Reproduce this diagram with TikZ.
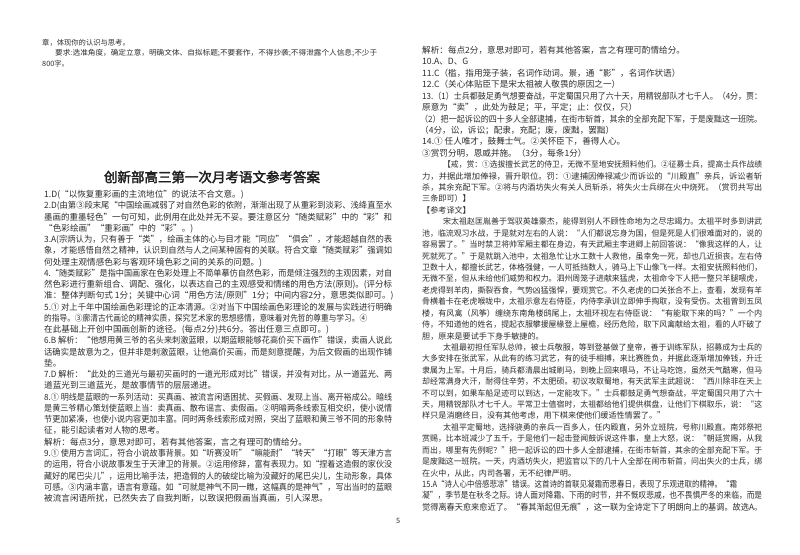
\documentclass[tikz,border=0pt]{standalone}
\usepackage{fontspec}
\usepackage{graphicx}
\setmainfont{Noto Sans CJK SC}
\newfontfamily\titlefont[FakeBold=2.5]{Noto Sans CJK SC}
\newcommand\fa{\fontsize{8.6pt}{10pt}\selectfont}
\newcommand\fb{\fontsize{8.1pt}{10pt}\selectfont}
\newcommand\fc{\fontsize{7.3pt}{9pt}\selectfont}
\tikzset{ln/.style={anchor=base west,inner sep=0pt,font=\fa,text=black!82}}
\newcommand\lf[2]{\node[ln] (l#1) at (44,{197.5+11.26*(#1-1)}) {\resizebox{348pt}{\height}{#2}};}
\newcommand\lw[3]{\node[ln] (l#1) at (44,{197.5+11.26*(#1-1)}) {\resizebox{#2}{\height}{#3}};}
\newcommand\lp[2]{\node[ln] (l#1) at (44,{197.5+11.26*(#1-1)}) {#2};}
\newcommand\rf[4]{\node[ln] (r#1) at (#2,{53.5+11.42*(#1-1)}) {\resizebox{#3}{\height}{#4}};}
\newcommand\rp[3]{\node[ln] (r#1) at (#2,{53.5+11.42*(#1-1)}) {#3};}
\begin{document}
\begin{tikzpicture}[x=1pt,y=-1pt]
\useasboundingbox[fill=white] (0,0) rectangle (800,554);
% top left
\node[ln,font=\fc] (t1) at (42,45) {章，体现你的认识与思考。};
\node[ln,font=\fc] (t2) at (55,55.5) {\resizebox{322pt}{\height}{要求:选准角度，确定立意，明确文体、自拟标题;不要套作，不得抄袭;不得泄露个人信息;不少于}};
\node[ln,font=\fc] (t3) at (42,66) {800字。};
% title
\node[inner sep=0pt,font=\titlefont\fontsize{13.5pt}{15pt}\selectfont,text=black!88] (title) at (212,177) {创新部高三第一次月考语文参考答案};
% left column
\lp{1}{1.D(“以恢复重彩画的主流地位”的说法不合文意。)}
\lf{2}{2.D(由第③段末尾“中国绘画减弱了对自然色彩的依附，渐渐出现了从重彩到淡彩、浅绛直至水}
\lf{3}{墨画的重墨轻色”一句可知，此例用在此处并无不妥。要注意区分“随类赋彩”中的“彩”和}
\lp{4}{“色彩绘画”“重彩画”中的“彩”。)}
\lf{5}{3.A(宗炳认为，只有善于“类”，绘画主体的心与目才能“同应”“俱会”，才能超越自然的表}
\lf{6}{象，才能感悟自然之精神，认识到自然与人之间某种固有的关联。符合文章“随类赋彩”强调如}
\lp{7}{何处理主观情感色彩与客观环境色彩之间的关系的问题。)}
\lf{8}{4.“随类赋彩”是指中国画家在色彩处理上不简单摹仿自然色彩，而是倾注强烈的主观因素，对自}
\lf{9}{然色彩进行重新组合、调配、强化，以表达自己的主观感受和情绪的用色方法(原则)。(评分标}
\lp{10}{准：整体判断句式 1分；关键中心词“用色方法/原则”1分；中间内容2分，意思类似即可。)}
\lf{11}{5.① 对上千年中国绘画色彩理论的正本清源。②对当下中国绘画色彩理论的发展与实践进行明确}
\lw{12}{323pt}{的指导。③廓清古代画论的精神实质，探究艺术家的思想感情，意味着对先哲的尊重与学习。④}
\lp{13}{在此基础上开创中国画创新的途径。(每点2分)共6分。答出任意三点即可。)}
\lf{14}{6.B 解析：“他想用黄三爷的名头来刺激蓝眼，以期蓝眼能够花高价买下画作”错误，卖画人说此}
\lf{15}{话确实是故意为之，但并非是刺激蓝眼，让他高价买画，而是刻意提醒，为后文假画的出现作铺}
\lp{16}{垫。}
\lf{17}{7.D 解析：“此处的三道光与最初买画时的一道光形成对比”错误，并没有对比，从一道蓝光、两}
\lp{18}{道蓝光到三道蓝光，是故事情节的层层递进。}
\lf{19}{8.① 明线是蓝眼的一系列活动：买真画、被流言闲语困扰、买假画、发现上当、离开裕成公。暗线}
\lf{20}{是黄三爷精心策划使蓝眼上当：卖真画、散布谣言、卖假画。②明暗两条线索互相交织，使小说情}
\lf{21}{节更加紧凑，也使小说内容更加丰富。同时两条线索形成对照，突出了蓝眼和黄三爷不同的形象特}
\lp{22}{征，能引起读者对人物的思考。}
\lp{23}{解析：每点3分，意思对即可，若有其他答案，言之有理可酌情给分。}
\lf{24}{9.① 使用方言词汇，符合小说故事背景。如“听赛没听”“嘛能耐”“转天”“打眼”等天津方言}
\lf{25}{的运用，符合小说故事发生于天津卫的背景。②运用修辞，富有表现力。如“捏着这造假的家伙没}
\lf{26}{藏好的尾巴尖儿”，运用比喻手法，把造假的人的破绽比喻为没藏好的尾巴尖儿，生动形象，具体}
\lf{27}{可感。③内涵丰富，语言有意蕴。如“可就是神气不同一瞧，这幅真的是神气”，写出当时的蓝眼}
\lp{28}{被流言闲语所扰，已然失去了自我判断，以致误把假画当真画，引人深思。}
% right column
\rp{1}{422}{解析：每点2分，意思对即可，若有其他答案，言之有理可酌情给分。}
\rp{2}{422}{10.A、D、G}
\rp{3}{422}{11.C（槛，指用笼子装，名词作动词。景，通“影”，名词作状语）}
\rp{4}{422}{12.C（关心体贴臣下是宋太祖被人敬畏的原因之一）}
\rf{5}{422}{340pt}{13.（1）士兵都鼓足勇气想要奋战，平定蜀国只用了六十天，用精锐部队才七千人。（4分，贾：}
\rp{6}{422}{原意为“卖”，此处为鼓足；平，平定；止：仅仅，只）}
\rf{7}{420}{342pt}{（2）把一起诉讼的四十多人全部逮捕，在街市斩首，其余的全部充配下军，于是废黜这一班院。}
\rp{8}{420}{（4分，讼，诉讼；配隶，充配；废，废黜，罢黜）}
\rp{9}{422}{14.① 任人唯才，鼓舞士气。②关怀臣下，善得人心。}
\rp{10}{422}{③赏罚分明，恩威并施。（3分，每条1分）}
\rf{11}{443}{319pt}{\fb【戒，赏：①选拔擅长武艺的侍卫，无微不至地安抚照料他们。②征募士兵，提高士兵作战绩}
\rf{12}{422}{340pt}{\fb 力，并据此增加俸禄，晋升职位。罚：①逮捕因俸禄减少而诉讼的“川殿直”亲兵，诉讼者斩}
\rf{13}{422}{340pt}{\fb 杀，其余充配下军。②将与内酒坊失火有关人员斩杀，将失火士兵绑在火中烧死。（赏罚共写出}
\rp{14}{422}{\fb 三条即可）】}
\rp{15}{422}{\fb【参考译文】}
\rf{16}{443}{319pt}{\fb 宋太祖赵匡胤善于驾驭英雄豪杰，能得到别人不顾性命地为之尽忠竭力。太祖平时多到讲武}
\rf{17}{422}{340pt}{\fb 池，临流观习水战，于是就对左右的人说：“人们都说忘身为国，但是死是人们很难面对的，说的}
\rf{18}{422}{340pt}{\fb 容易罢了。”当时禁卫将帅军厢主都在身边，有天武厢主李进卿上前回答说：“像我这样的人，让}
\rf{19}{422}{340pt}{\fb 死就死了。”于是就跳入池中，太祖急忙让水工数十人救他，虽幸免一死，却也几近损丧。左右侍}
\rf{20}{422}{340pt}{\fb 卫数十人，都擅长武艺，体格强健，一人可抵挡数人，骑马上下山像飞一样。太祖安抚照料他们，}
\rf{21}{422}{340pt}{\fb 无微不至，但从未给他们威势和权力。泗州周笼子进献来猛虎，太祖命令下人把一整只羊腿喂虎，}
\rf{22}{422}{340pt}{\fb 老虎得到羊肉，撕裂吞食，气势凶猛强悍，要观赏它。不久老虎的口关张合不上，查看，发现有羊}
\rf{23}{422}{340pt}{\fb 骨横着卡在老虎喉咙中，太祖示意左右侍臣，内侍李承训立即伸手掏取，没有受伤。太祖曾到五凤}
\rf{24}{422}{340pt}{\fb 楼，有风禽（风筝）缠绕东南角楼鸱尾上，太祖环视左右侍臣说：“有能取下来的吗？”一个内}
\rf{25}{422}{340pt}{\fb 侍，不知道他的姓名，提起衣服攀援屋椽登上屋檐，经历危险，取下风禽献给太祖，看的人吓破了}
\rp{26}{422}{\fb 胆，原来是要试手下身手敏捷的。}
\rf{27}{443}{319pt}{\fb 太祖最初担任军队总帅，被士兵敬服，等到登基做了皇帝，善于训练军队，招募成为士兵的}
\rf{28}{422}{340pt}{\fb 大多安排在张武军，从此有的练习武艺，有的徒手相搏，来比赛胜负，并据此逐渐增加俸钱，升迁}
\rf{29}{422}{340pt}{\fb 隶属为上军。十月后，骑兵都清晨出城刷马，到晚上回来喂马，不让马吃饱，虽然天气酷寒，但马}
\rf{30}{422}{340pt}{\fb 却经常满身大汗，耐得住辛劳，不太肥硕。初议攻取蜀地，有天武军主武超说：“西川除非在天上}
\rf{31}{422}{340pt}{\fb 不可以到，如果车船足迹可以到达，一定能攻下。”士兵都鼓足勇气想奋战，平定蜀国只用了六十}
\rf{32}{422}{340pt}{\fb 天，用精锐部队才七千人。平常卫士值宿时，太祖都给他们提供棋盘，让他们下棋取乐，说：“这}
\rp{33}{422}{\fb 样只是消磨终日，没有其他考虑，用下棋来使他们缓适性情罢了。”}
\rf{34}{443}{319pt}{\fb 太祖平定蜀地，选择骁勇的亲兵一百多人，任内殿直，另外立班院，号称川殿直。南郊祭祀}
\rf{35}{422}{340pt}{\fb 赏赐，比本班减少了五千，于是他们一起击登闻鼓诉说这件事，皇上大怒，说：“朝廷赏赐，从我}
\rf{36}{422}{340pt}{\fb 而出，哪里有先例呢？”把一起诉讼的四十多人全部逮捕，在街市斩首，其余的全部充配下军。于}
\rf{37}{422}{340pt}{\fb 是废黜这一班院。一天，内酒坊失火，把监官以下的几十人全部在闹市斩首，问出失火的士兵，绑}
\rp{38}{422}{\fb 在火中，从此，内司各署，无不纪律严明。}
\rf{39}{422}{315pt}{15.A“诗人心中倍感悲凉”错误。这首诗的首联见凝霜而思春日，表现了乐观进取的精神。“霜}
\rf{40}{422}{340pt}{凝”，季节是在秋冬之际。诗人面对降霜、下雨的时节，并不慨叹悲戚，也不畏惧严冬的来临，而是}
\rf{41}{422}{340pt}{觉得离春天愈来愈近了。“春其渐起但无痕”，这一联为全诗定下了明朗向上的基调。故选A。}
% page number
\node[ln,font=\fc] (pg) at (396,523) {5};
\end{tikzpicture}
\end{document}
